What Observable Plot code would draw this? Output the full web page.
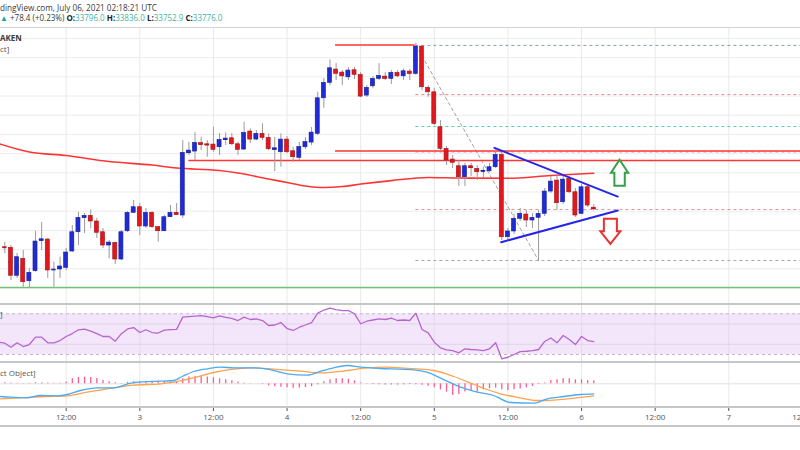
<!DOCTYPE html>
<html>
<head>
<meta charset="utf-8">
<script src="https://cdn.jsdelivr.net/npm/d3@7"></script>
<script src="https://cdn.jsdelivr.net/npm/@observablehq/plot@0.6"></script>
<style>
  html, body { margin: 0; padding: 0; background: #fff; }
  #chart { position: relative; width: 800px; height: 450px; overflow: hidden; background: #fff; }
  .pane { position: absolute; left: 0; width: 800px; }
  .sep { position: absolute; left: 0; width: 800px; background: #c6c6c6; }
  #overlay { position: absolute; left: 0; top: 0; z-index: 5; pointer-events: none; }
</style>
</head>
<body>
<div id="chart">
  <div class="sep" style="top:27px;height:1px;background:#d4d4d4"></div>
  <div id="main" class="pane" style="top:28px"></div>
  <div class="sep" style="top:303px;height:2px"></div>
  <div id="rsi" class="pane" style="top:305px"></div>
  <div class="sep" style="top:361px;height:2px"></div>
  <div id="macd" class="pane" style="top:363px"></div>
  <div class="sep" style="top:406px;height:2px"></div>
  <div id="axis" class="pane" style="top:408px"></div>
  <div class="sep" style="top:425px;height:2px"></div>
  <svg id="overlay" width="800" height="450"></svg>
</div>
<script>
// ---- BTC/USD hourly bars, Kraken (first bar 2 July 2021 02:00 UTC) ----
const firstBar = Date.UTC(2021, 6, 2, 2);
const open = [33280,33273,32909,33130,32838,32969,33365,33381,32988,32991,33013,33225,33476,33664,33690,33616,33476,33303,33338,33121,33489,33729,
  33802,33551,33729,33542,33489,33672,33729,33694,34505,34527,34638,34622,34618,34583,34679,34700,34622,34553,34788,34683,34758,34705,34549,34518,
  34683,34531,34445,34583,34644,34758,35221,35422,35595,35556,35494,35586,35526,35256,35377,35474,35504,35474,35552,35507,35569,35539,35894,35357,
  35299,34844,34562,34423,34336,34193,34336,34302,34270,34270,34323,34484,33411,33486,33651,33707,33629,33664,33716,34006,34149,33867,34172,33997,
  33716,34062,33796];
const high = [33346,33303,33199,33238,33004,33489,33603,33394,33086,33151,33264,33564,33737,33720,33768,33655,33525,33368,33342,33498,33746,33889,
  33850,33785,33746,33551,33694,33824,33850,34670,34648,34774,34713,34670,34844,34761,34771,34761,34648,34908,34823,34801,34888,34758,34713,34758,
  34722,34583,34644,34709,34840,35299,35478,35721,35673,35582,35621,35621,35556,35386,35504,35673,35556,35582,35582,35604,35595,35937,35911,35386,
  35347,34931,34592,34475,34410,34371,34371,34345,34323,34371,34566,34540,33525,33707,33785,33759,33720,33759,34045,34202,34215,34202,34202,34045,
  34097,34097,33836];
const low = [33199,32847,32874,32760,32743,32956,33238,32874,32760,32874,32978,33216,33303,33460,33521,33394,33264,33130,33056,33108,33473,33720,
  33433,33525,33525,33346,33485,33668,33694,33655,34475,34410,34540,34453,34518,34475,34605,34605,34475,34540,34631,34670,34670,34540,34267,34323,
  34501,34388,34410,34553,34605,34735,35091,35386,35452,35386,35452,35465,35230,35230,35347,35452,35452,35400,35490,35452,35452,35517,35321,35234,
  34866,34540,34345,34306,34071,34071,34201,34149,34175,34254,34306,33368,33368,33446,33616,33538,33525,33108,33681,33980,33759,33837,33980,33668,
  33707,33798,33752.9];
const close = [33276,32909,33151,32825,32948,33355,33385,32978,32990,33030,33212,33476,33664,33690,33616,33469,33303,33342,33121,33476,33729,33802,
  33551,33729,33542,33489,33672,33729,33703,34510,34540,34640,34614,34609,34549,34679,34696,34622,34549,34771,34683,34758,34705,34557,34570,34683,
  34518,34453,34586,34651,34774,35221,35422,35612,35539,35507,35582,35526,35243,35357,35474,35513,35474,35552,35507,35573,35539,35894,35364,35299,
  34888,34562,34410,34380,34193,34336,34310,34258,34272,34323,34484,33411,33486,33651,33716,33629,33664,33716,34006,34136,33854,34162,33997,33694,
  34062,33824,33776];

// 100-period moving average, hours from 3 July 00:00 UTC
const maHours  = [-23, -18, -12, -5, 2, 6, 13, 16, 21, 24, 27, 30, 33, 36, 41, 47, 52, 60, 67, 74];
const maValues = [34631,34521,34475,34397,34351,34312,34280,34247,34169,34124,34078,34058,34071,34104,34149,34189,34182,34179,34215,34245];

// RSI(14), one value per bar starting 2 July 01:00 UTC
const rsiStart = Date.UTC(2021, 6, 2, 1);
const rsi = [42.1,41.1,37.2,41.5,37.8,39.8,47.0,47.0,41.5,41.5,43.7,47.7,50.6,54.3,54.9,52.9,50.6,47.7,47.7,43.1,50.5,55.1,56.5,
  51.6,54.3,51.6,51.1,54.0,54.5,54.7,66.7,67.3,67.7,68.3,67.3,66.1,68.0,66.4,65.4,63.4,66.7,64.4,64.9,63.4,58.5,59.0,61.4,55.5,53.6,56.8,
  59.0,61.4,70.6,73.7,75.5,74.2,73.2,73.2,70.0,60.2,62.7,63.9,65.1,64.4,65.7,63.4,63.9,63.4,70.6,54.6,51.3,42.1,36.6,34.6,33.9,31.7,35.6,
  34.9,34.6,33.9,35.6,41.5,25.8,27.3,30.0,32.9,33.2,33.9,34.9,42.8,46.2,41.5,48.7,44.7,39.8,47.7,43.7,42.7];
const rsiBand = [30, 70];
const rsiGrid = [40, 60];

// MACD(12, 26, 9): line and signal (hours from 3 July 00:00 UTC), histogram per bar
const macdHours  = [-22.7,-21.1,-18.4,-16.2,-13.5,-11.8,-9.7,-6.9,-4.2,-1.5,0.7,3.4,5.5,6.9,8.8,11,13.2,15.3,18.6,20.8,24,27.3,29.5,31.6,33.8,36,39.2,42.5,44.7,46.8,49.6,52.3,55,57.7,58.3,60.4,64.2,66.4,69.1,71.8,74];
const macdValues = [-127,-134,-140,-117,-120,-107,-67,-40,-40,6,20,26,33,73,123,150,166,160,160,146,100,86,126,160,183,166,153,146,140,116,40,-34,-84,-117,-134,-187,-194,-150,-127,-107,-100];
const signalHours  = [-22.7,-19.5,-15.6,-11.8,-8.6,-4.2,-1,3.4,5.5,8.8,12,15.3,18.6,21.8,26.2,29.5,33.8,37,40.3,42.5,45.8,47.9,51.2,54.5,56.6,58.8,62,64.8,66.4,69.7,74];
const signalValues = [-150,-140,-127,-120,-84,-40,-14,0,16,60,113,146,160,146,126,110,133,160,166,160,146,133,73,-7,-57,-100,-140,-167,-167,-150,-120];
const histogram = [10,8,5,3,5,10,10,8,5,5,15,50,63,67,63,53,33,20,10,-3,15,20,20,20,25,25,25,20,18,50,67,73,73,67,60,50,40,30,18,8,4,0,
  -5,-20,-30,-35,-40,-45,-43,-37,-30,-10,20,40,50,50,45,30,8,-3,-8,-10,-13,-12,-13,-10,-8,-10,-15,-25,-40,-60,-83,-117,-107,-83,-73,-83,
  -60,-50,-43,-60,-67,-60,-53,-40,-27,-7,7,33,40,50,50,40,40,33,30];

// Drawings on the price pane (hours from 3 July 00:00 UTC)
const resistanceLines = [
  {price: 35915, from: 31.9, to: 44.9},
  {price: 34534, from: 31.9, to: 110},
  {price: 34410, from: 8, to: 110}
];
const supportLine = 32757;
const fibFrom = 45, fibTo = 65, fibHigh = 35910, fibLow = 33108;
const fibLevels = [
  {price: 35910, color: "#8797b8"},
  {price: 35269, color: "#f08a8a"},
  {price: 34853, color: "#55cfa8"},
  {price: 34521, color: "#c9a2a8"},
  {price: 33772, color: "#f09090"},
  {price: 33108, color: "#a9a9a9"}
];
const triangleUpper = [{h: 57.8, v: 34575}, {h: 77.9, v: 33941}];
const triangleLower = [{h: 58.9, v: 33346}, {h: 77.9, v: 33759}];
const breakoutArrows = [{h: 78.2, v: 34251, dir: "up"}, {h: 76.7, v: 33488, dir: "down"}];

// ---- helpers ----
const HOUR = 3600e3;
const day3 = Date.UTC(2021, 6, 3);
const at = h => new Date(day3 + h * HOUR);
const xDomain = [at(-22.706), at(107.69)];
const gridDates = d3.utcHour.every(12).range(at(-12), at(120));
const FONT = "'Open Sans', 'Noto Sans', sans-serif";
const BLUE = "#1f2bd6", RED = "#e2161c";
const baseStyle = {background: "transparent", fontFamily: FONT, fontSize: "8px", color: "#50535e", overflow: "hidden"};

const candles = open.map((o, i) => ({
  t: new Date(firstBar + i * HOUR), o, h: high[i], l: low[i], c: close[i], up: close[i] >= o
}));
const left = d => new Date(+d.t - 0.33 * HOUR);
const right = d => new Date(+d.t + 0.33 * HOUR);

function arrowSymbol(dir, head, shaft) {
  return {
    draw(ctx, size) {
      const r = Math.sqrt(size / Math.PI), s = dir === "up" ? 1 : -1;
      const hw = head * r, sw = shaft * r;
      ctx.moveTo(0, -s * r);
      ctx.lineTo(hw, 0);
      ctx.lineTo(sw, 0);
      ctx.lineTo(sw, s * r);
      ctx.lineTo(-sw, s * r);
      ctx.lineTo(-sw, 0);
      ctx.lineTo(-hw, 0);
      ctx.closePath();
    }
  };
}

// ---- price pane ----
const mainPlot = Plot.plot({
  width: 800, height: 275, margin: 0,
  x: {type: "utc", domain: xDomain, axis: null},
  y: {domain: [32548, 36130], axis: null},
  color: {type: "identity"},
  style: baseStyle,
  marks: [
    Plot.ruleY(d3.range(32750, 36001, 250), {stroke: "#ececec", strokeWidth: 1}),
    Plot.ruleX(gridDates, {stroke: "#e9e9e9", strokeWidth: 1}),
    Plot.ruleY([supportLine], {stroke: "#72c277", strokeWidth: 1.5}),
    Plot.ruleY(fibLevels, {y: "price", x1: () => at(fibFrom), x2: () => at(110), stroke: "color", strokeWidth: 1, strokeDasharray: "3,3"}),
    Plot.line([{h: fibFrom, v: fibHigh}, {h: fibTo, v: fibLow}], {x: d => at(d.h), y: "v", stroke: "#a0a0a0", strokeWidth: 1, strokeDasharray: "3,3"}),
    Plot.ruleY(resistanceLines, {y: "price", x1: d => at(d.from), x2: d => at(d.to), stroke: "#ff3434", strokeWidth: 1.5}),
    Plot.line(maHours.map((h, i) => ({h, v: maValues[i]})), {x: d => at(d.h), y: "v", stroke: "#ff3535", strokeWidth: 1.6, curve: "monotone-x"}),
    Plot.ruleX(candles, {x: "t", y1: "l", y2: "h", stroke: "#9a9a9a", strokeWidth: 1}),
    Plot.ruleY(candles.filter(d => d.up), {x1: left, x2: right, y: d => (d.o + d.c) / 2, stroke: BLUE, strokeWidth: 1.4}),
    Plot.ruleY(candles.filter(d => !d.up), {x1: left, x2: right, y: d => (d.o + d.c) / 2, stroke: RED, strokeWidth: 1.4}),
    Plot.rect(candles.filter(d => d.up), {x1: left, x2: right, y1: "o", y2: "c", fill: BLUE, stroke: "#1a2199", strokeWidth: 0.6}),
    Plot.rect(candles.filter(d => !d.up), {x1: left, x2: right, y1: "o", y2: "c", fill: RED, stroke: "#a3161a", strokeWidth: 0.6}),
    Plot.line(triangleUpper, {x: d => at(d.h), y: "v", stroke: "#2626e8", strokeWidth: 2}),
    Plot.line(triangleLower, {x: d => at(d.h), y: "v", stroke: "#2626e8", strokeWidth: 2}),
    Plot.dot(breakoutArrows.filter(d => d.dir === "up"), {x: d => at(d.h), y: "v", r: 13, symbol: arrowSymbol("up", 0.66, 0.4), fill: "white", stroke: "#35a045", strokeWidth: 2}),
    Plot.dot(breakoutArrows.filter(d => d.dir === "down"), {x: d => at(d.h), y: "v", r: 12.5, symbol: arrowSymbol("down", 0.8, 0.52), fill: "white", stroke: "#e8302e", strokeWidth: 2})
  ]
});
document.getElementById("main").appendChild(mainPlot);

// ---- RSI pane ----
const rsiPlot = Plot.plot({
  width: 800, height: 56, margin: 0,
  x: {type: "utc", domain: xDomain, axis: null},
  y: {domain: [23.12, 78.16], axis: null},
  style: baseStyle,
  marks: [
    Plot.rect([rsiBand], {x1: () => xDomain[0], x2: () => xDomain[1], y1: d => d[0], y2: d => d[1], fill: "#f3e6fb"}),
    Plot.ruleX(gridDates, {stroke: "#e2dbe8", strokeWidth: 1}),
    Plot.ruleY(rsiGrid, {stroke: "#e0d3ea", strokeWidth: 1}),
    Plot.ruleY(rsiBand, {stroke: "#c3b8cc", strokeWidth: 1, strokeDasharray: "3,3"}),
    Plot.line(rsi.map((v, i) => ({t: new Date(rsiStart + i * HOUR), v})), {x: "t", y: "v", stroke: "#b665cf", strokeWidth: 1.3})
  ]
});
document.getElementById("rsi").appendChild(rsiPlot);

// ---- MACD pane ----
const macdPlot = Plot.plot({
  width: 800, height: 43, margin: 0,
  x: {type: "utc", domain: xDomain, axis: null},
  y: {domain: [-227, 203], axis: null},
  style: baseStyle,
  marks: [
    Plot.ruleX(gridDates, {stroke: "#e9e9e9", strokeWidth: 1}),
    Plot.ruleY([0], {stroke: "#e2e2e2", strokeWidth: 1}),
    Plot.ruleX(histogram.map((v, i) => ({t: new Date(firstBar + i * HOUR), v})), {x: "t", y1: 0, y2: "v", stroke: "#ff5b8e", strokeWidth: 1.3}),
    Plot.line(signalHours.map((h, i) => ({h, v: signalValues[i]})), {x: d => at(d.h), y: "v", stroke: "#ffa24f", strokeWidth: 1.3, curve: "monotone-x"}),
    Plot.line(macdHours.map((h, i) => ({h, v: macdValues[i]})), {x: d => at(d.h), y: "v", stroke: "#4aaaf2", strokeWidth: 1.3, curve: "monotone-x"})
  ]
});
document.getElementById("macd").appendChild(macdPlot);

// ---- time axis ----
const axisPlot = Plot.plot({
  width: 800, height: 17, marginTop: 0, marginBottom: 17, marginLeft: 0, marginRight: 0,
  x: {type: "utc", domain: xDomain, ticks: gridDates, tickSize: 3, tickPadding: 3, label: null,
      tickFormat: d => d.getUTCHours() === 0 ? String(d.getUTCDate()) : "12:00"},
  style: baseStyle,
  marks: [Plot.ruleX(gridDates, {stroke: "none"})]
});
document.getElementById("axis").appendChild(axisPlot);

// ---- legends and header text ----
const NS = "http://www.w3.org/2000/svg";
const overlay = document.getElementById("overlay");
function label({parts, y, size, hide = 0, width = null, x = 0}) {
  const el = document.createElementNS(NS, "text");
  el.setAttribute("y", y);
  el.setAttribute("font-size", size);
  el.setAttribute("font-family", FONT);
  el.style.whiteSpace = "pre";
  for (const p of parts) {
    const ts = document.createElementNS(NS, "tspan");
    ts.textContent = p.text;
    ts.setAttribute("fill", p.fill || "#3c3c3c");
    if (p.bold) ts.setAttribute("font-weight", "700");
    el.appendChild(ts);
  }
  overlay.appendChild(el);
  if (width) {
    const full = el.getComputedTextLength();
    const pre = hide ? el.getSubStringLength(0, hide) : 0;
    el.setAttribute("font-size", size * width / (full - pre));
  }
  const pre = hide ? el.getSubStringLength(0, hide) : 0;
  el.setAttribute("x", x - pre);
}
const TEAL = "#3fb3a6";
label({parts: [{text: "TradingView.com, July 06, 2021 02:18:21 UTC", fill: "#3a3a3a"}], y: 10.5, size: 9, hide: 3, width: 157});
label({parts: [
  {text: "▲ ", fill: "#26a69a"}, {text: "+78.4 (+0.23%) ", fill: "#3a3a3a"},
  {text: "O:", fill: "#222", bold: true}, {text: "33796.0 ", fill: TEAL},
  {text: "H:", fill: "#222", bold: true}, {text: "33836.0 ", fill: TEAL},
  {text: "L:", fill: "#222", bold: true}, {text: "33752.9 ", fill: TEAL},
  {text: "C:", fill: "#222", bold: true}, {text: "33776.0", fill: TEAL}
], y: 20.5, size: 9, width: 223});
const kraken = "BTCUSD, 60, KRAKEN";
label({parts: [{text: kraken, fill: "#3a3a3a", bold: true}], y: 41, size: 8, hide: kraken.indexOf("AKEN")});
const maLegend = "MA (100, close, 0) [object Object]";
label({parts: [{text: maLegend, fill: "#555"}], y: 52, size: 8, hide: maLegend.lastIndexOf("ct]")});
const rsiLegend = "RSI (14, close) [object Object]";
label({parts: [{text: rsiLegend, fill: "#555"}], y: 317, size: 8, hide: rsiLegend.length - 1});
const macdLegend = "MACD (12, 26, close, 9) [object Object]";
label({parts: [{text: macdLegend, fill: "#555"}], y: 375.5, size: 8, hide: macdLegend.lastIndexOf("ct Object]")});
</script>
</body>
</html>
